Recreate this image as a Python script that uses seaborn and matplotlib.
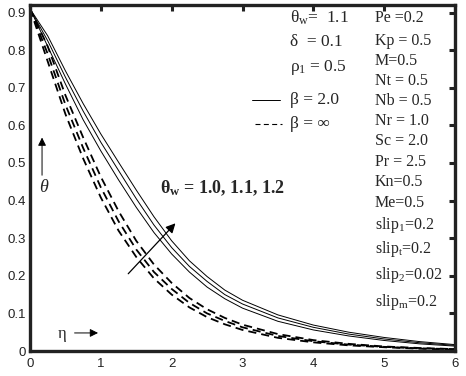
import numpy as np
import pandas as pd
import matplotlib
matplotlib.use("Agg")
import matplotlib.pyplot as plt
import seaborn as sns

# -------------------------------------------------------
# Data
# -------------------------------------------------------
eta = [0, 0.25, 0.5, 0.75, 1.0, 1.25, 1.5, 1.75, 2.0, 2.25, 2.5, 2.75,
       3.0, 3.5, 4.0, 4.5, 5.0, 5.5, 6.0]

# beta = 2.0 (solid), theta_w = 1.0, 1.1, 1.2
solid_10 = [0.91, 0.81, 0.71, 0.615, 0.532, 0.455, 0.382, 0.315, 0.258, 0.21,
            0.17, 0.139, 0.114, 0.079, 0.056, 0.04, 0.028, 0.019, 0.013]
solid_11 = [0.91, 0.825, 0.728, 0.638, 0.555, 0.48, 0.405, 0.335, 0.275, 0.225,
            0.185, 0.15, 0.125, 0.088, 0.063, 0.045, 0.032, 0.022, 0.015]
solid_12 = [0.91, 0.838, 0.745, 0.658, 0.577, 0.502, 0.428, 0.357, 0.293, 0.24,
            0.198, 0.162, 0.135, 0.096, 0.069, 0.05, 0.036, 0.025, 0.017]

# beta = infinity (dashed), theta_w = 1.0, 1.1, 1.2
dash_10 = [0.91, 0.77, 0.63, 0.512, 0.408, 0.32, 0.25, 0.193, 0.15, 0.116,
           0.09, 0.071, 0.056, 0.035, 0.023, 0.015, 0.01, 0.006, 0.004]
dash_11 = [0.91, 0.79, 0.655, 0.54, 0.435, 0.345, 0.27, 0.21, 0.165, 0.128,
           0.1, 0.08, 0.063, 0.04, 0.026, 0.017, 0.011, 0.007, 0.005]
dash_12 = [0.91, 0.81, 0.68, 0.568, 0.463, 0.372, 0.293, 0.23, 0.181, 0.141,
           0.111, 0.088, 0.07, 0.045, 0.029, 0.019, 0.012, 0.008, 0.005]

x_ticks = [0, 1, 2, 3, 4, 5, 6]
y_ticks = [0, 0.1, 0.2, 0.3, 0.4, 0.5, 0.6, 0.7, 0.8, 0.9]
y_tick_labels = ["0", "0.1", "0.2", "0.3", "0.4", "0.5", "0.6", "0.7", "0.8", "0.9"]

params = ["Pe =0.2", "Kp = 0.5", "M=0.5", "Nt = 0.5", "Nb = 0.5", "Nr = 1.0",
          "Sc = 2.0", "Pr = 2.5", "Kn=0.5", "Me=0.5",
          "slip$_{1}$=0.2", "slip$_{\\mathrm{t}}$=0.2", "slip$_{2}$=0.02",
          "slip$_{\\mathrm{m}}$=0.2"]

# -------------------------------------------------------
# Style
# -------------------------------------------------------
sns.set_theme(style="white")
plt.rcParams.update({
    "font.family": ["Liberation Serif", "DejaVu Serif"],
    "mathtext.fontset": "custom",
    "mathtext.rm": "Liberation Serif",
    "mathtext.it": "Liberation Serif:italic",
    "mathtext.bf": "Liberation Serif:bold",
    "axes.edgecolor": "#222222",
})

fig = plt.figure(figsize=(4.66, 3.76), dpi=100)
ax = fig.add_axes([30 / 466, 25 / 376, 425 / 466, 346 / 376])

for ys in [solid_10, solid_11, solid_12]:
    sns.lineplot(x=eta, y=ys, ax=ax, color="black", linewidth=0.7)
for ys in [dash_10, dash_11, dash_12]:
    sns.lineplot(x=eta, y=ys, ax=ax, color="black", linewidth=1.3,
                 dashes=False, linestyle=(0, (4.5, 2.8)))

ax.set_xlim(0, 6)
ax.set_ylim(0, 0.92)
ax.set_xticks(x_ticks)
ax.set_yticks(y_ticks)
ax.set_yticklabels(y_tick_labels)
for sp in ax.spines.values():
    sp.set_linewidth(2.4)
ax.tick_params(direction="in", length=4, width=2.2, top=True, right=True,
               labelsize=9.5, colors="#222222", pad=3)
ax.tick_params(axis="x", pad=5)
for lab in ax.get_xticklabels() + ax.get_yticklabels():
    lab.set_family("Liberation Sans")

# parameter column on the right
ys_param = [0.886, 0.824, 0.772, 0.719, 0.666, 0.612, 0.559, 0.503,
            0.449, 0.394, 0.334, 0.272, 0.201, 0.13]
for txt, yy in zip(params, ys_param):
    ax.text(4.87, yy, txt, fontsize=11.5, va="center", ha="left")

# theta_w / delta / rho box
ax.text(3.67, 0.886, "θ$_{\\mathrm{w}}$=  1.1", fontsize=12.5, va="center")
ax.text(3.67, 0.822, "δ  = 0.1", fontsize=12.5, va="center")
ax.text(3.67, 0.753, "ρ$_{1}$ = 0.5", fontsize=12.5, va="center")

# legend drawn by hand
ax.plot([3.14, 3.53], [0.668, 0.668], color="black", linewidth=0.7)
ax.text(3.67, 0.668, "β = 2.0", fontsize=12.5, va="center")
ax.plot([3.18, 3.56], [0.604, 0.604], color="black", linewidth=0.8,
        linestyle=(0, (4.5, 3)))
ax.text(3.67, 0.604, "β = ∞", fontsize=12.5, va="center")

# theta_w arrow and label
ax.annotate("", xy=(2.08, 0.345), xytext=(1.36, 0.2),
            arrowprops=dict(arrowstyle="-|>", color="black", lw=0.9,
                            mutation_scale=14))
ax.text(1.84, 0.434, "θ$_{\\mathbf{w}}$ = 1.0, 1.1, 1.2", fontsize=13,
        fontweight="bold", va="center")

# axis labels placed inside
ax.annotate("", xy=(0.17, 0.575), xytext=(0.17, 0.46),
            arrowprops=dict(arrowstyle="-|>", color="black", lw=0.7,
                            mutation_scale=12))
ax.text(0.2, 0.434, "$\\theta$", fontsize=13, va="center", ha="center")
ax.text(0.45, 0.046, "η", fontsize=12, va="center", ha="center")
ax.annotate("", xy=(1.0, 0.048), xytext=(0.59, 0.048),
            arrowprops=dict(arrowstyle="-|>", color="black", lw=0.7,
                            mutation_scale=12))

fig.savefig("out.png", dpi=100, facecolor="white")
